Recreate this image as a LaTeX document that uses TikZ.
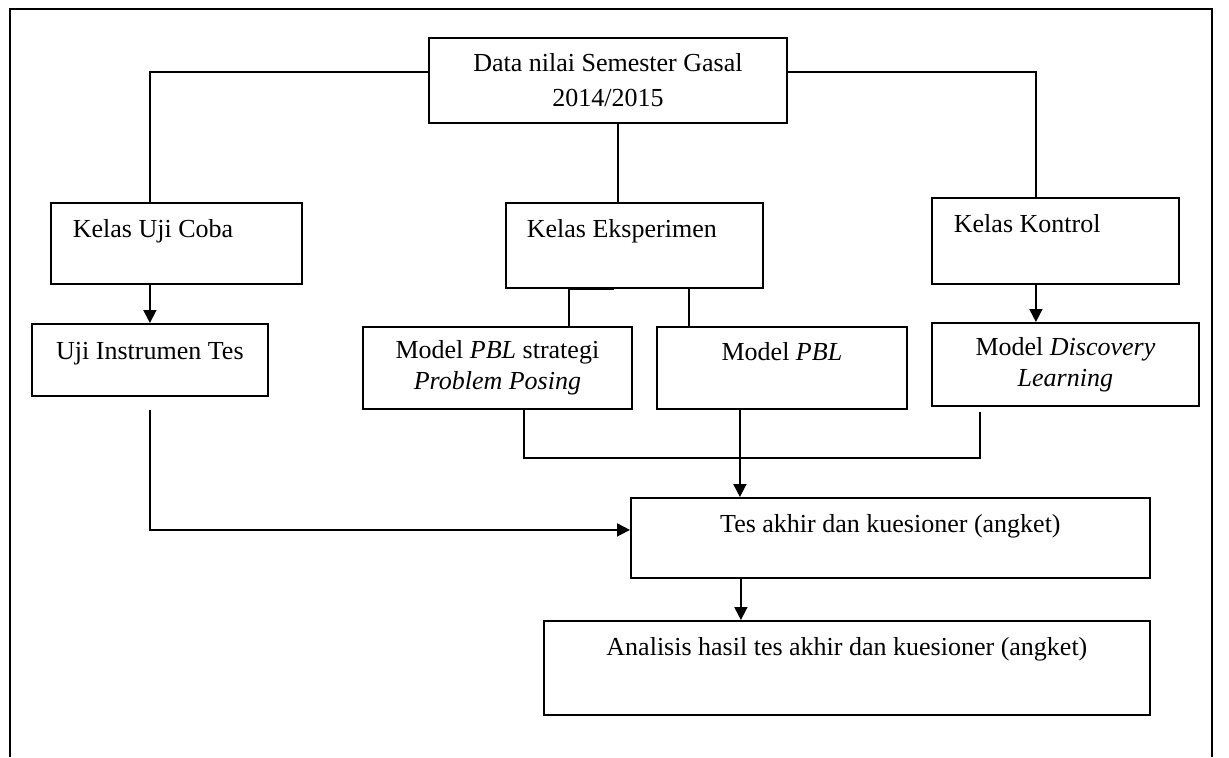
\documentclass[tikz,border=0pt]{standalone}
\usepackage{fontspec}
\setmainfont{Liberation Serif}
\usetikzlibrary{arrows.meta}

\begin{document}
\begin{tikzpicture}[
		x=0.5pt, y=-0.5pt,
		bx/.style = {rectangle, draw, line width=0.9pt, inner sep=0pt, anchor=north west, font=\fontsize{13}{15.5}\selectfont},
		tl/.style = {text height=17.5pt, align=flush left},
		ln/.style = {line width=0.9pt},
		ar/.style = {-{Triangle[length=6.5pt, width=6.5pt]}, line width=0.9pt}
		]
		\useasboundingbox (0,0) rectangle (1229,757);
		\draw[ln] (10,757) -- (10,9) -- (1212,9) -- (1212,757);
		
		% === === Nodes === ===
		\node[bx, minimum width=179pt, minimum height=42.5pt, align=center]	(data)	at (428,37)		{Data nilai Semester Gasal\\[2pt]2014/2015};
		
		\node[bx, tl, text width=103.5pt, inner xsep=11pt, text depth=23pt]		(k-uji)	at (50,202)		{Kelas Uji Coba};
		\node[bx, tl, text width=107.5pt, inner xsep=10.5pt, text depth=25pt]	(k-eks)	at (505,202)	{Kelas Eksperimen};
		\node[bx, tl, text width=101.5pt, inner xsep=11pt, text depth=25.5pt]	(k-kon)	at (931,197)	{Kelas Kontrol};
		
		\node[bx, minimum width=118pt, text height=18pt, text depth=18pt]		(uji)	at (31,323)		{Uji Instrumen Tes};
		\node[bx, minimum width=134.5pt, minimum height=41pt, align=center]		(m-pp)	at (362,326)	{Model \textit{PBL} strategi\\\textit{Problem Posing}};
		\node[bx, minimum width=125pt, text height=17pt, text depth=24pt]		(m-pbl)	at (656,326)	{Model \textit{PBL}};
		\node[bx, minimum width=133.5pt, minimum height=41.5pt, align=center]	(m-dl)	at (931,322)	{Model \textit{Discovery}\\\textit{Learning}};
		
		\node[bx, minimum width=259.5pt, text height=17.5pt, text depth=22.5pt]	(tes)	at (630,497)	{Tes akhir dan kuesioner (angket)};
		\node[bx, minimum width=303pt, text height=17.5pt, text depth=29.5pt]	(ana)	at (543,620)	{Analisis hasil tes akhir dan kuesioner (angket)};
		
		% === === Lines === ===
		\draw[ln]	([yshift=4.25pt]data.west)		-|	([xshift=-13.25pt]k-uji.north);
		\draw[ln]	([yshift=4.25pt]data.east)		-|	([xshift=-9.75pt]k-kon.north);
		\draw[ln]	([xshift=5pt]data.south)		--	([xshift=5pt]data.south |- k-eks.north);
		\draw[ln]	([xshift=-10.25pt]k-eks.south)	-|	([xshift=35.75pt]m-pp.north);
		\draw[ln]	([xshift=-46.5pt]m-pbl.north)	--	([xshift=-46.5pt]m-pbl.north |- k-eks.south);
		
		\draw[ar]	(k-uji.south -| uji.north)		--	(uji.north);
		\draw[ar]	([xshift=-9.75pt]k-kon.south)	--	([xshift=-9.75pt]k-kon.south |- m-dl.north);
		
		\draw[ar]	([yshift=-6.5pt]uji.south)		|-	([yshift=4pt]tes.west);
		\draw[ln]	([xshift=13.25pt]m-pp.south)	|-	([yshift=-24pt]m-pbl.south)	-|	([xshift=-42.75pt, yshift=-2.5pt]m-dl.south);
		\draw[ar]	([xshift=-21pt]m-pbl.south)		--	([xshift=-21pt]m-pbl.south |- tes.north);
		\draw[ar]	([xshift=-74.75pt]tes.south)	--	([xshift=-74.75pt]tes.south |- ana.north);
		
	\end{tikzpicture}
\end{document}
